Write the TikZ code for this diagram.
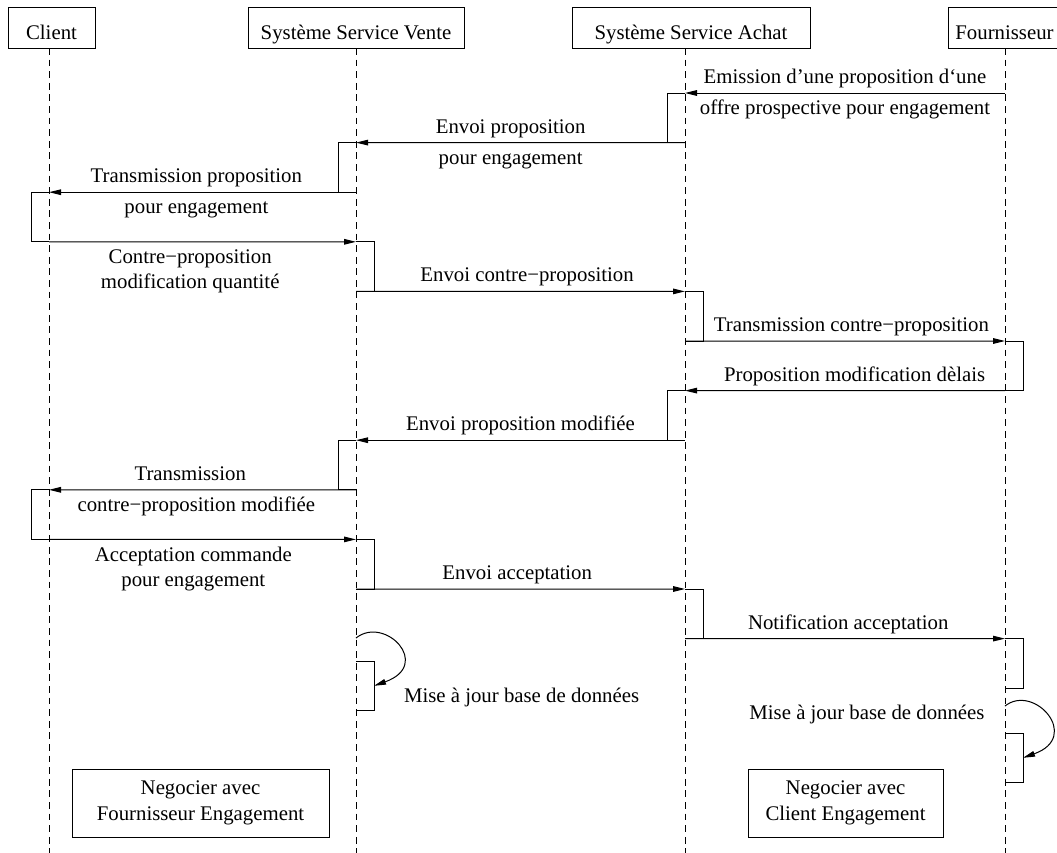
\documentclass[tikz,border=0pt]{standalone}
\usepackage{fontspec}
\setmainfont{Liberation Serif}
\usetikzlibrary{arrows.meta}
\tikzset{
  head/.style={draw,line width=0.5pt,minimum height=20.5pt,inner sep=0pt,
               text height=11.5pt,text depth=0pt},
  life/.style={line width=0.5pt,dash pattern=on 3.4pt off 2.4pt},
  act/.style={minimum width=9pt,minimum height=24.8pt,inner sep=0pt,outer sep=0pt},
  actl/.style={act,anchor=north east},
  actr/.style={act,anchor=north west},
  side/.style={line width=0.5pt},
  msg/.style={line width=0.5pt,-{Triangle[length=6pt,width=2.8pt]}},
  lab/.style={text height=0.7em,text depth=0.25em},
  labup/.style={lab,anchor=south,inner sep=2pt},
  labdn/.style={lab,anchor=north,inner sep=3.5pt},
  labdn2/.style={anchor=north,inner sep=3.5pt,align=center},
  note/.style={draw,line width=0.5pt,align=center,minimum height=34pt,inner sep=0pt},
}
\begin{document}
\begin{tikzpicture}[x=0.5pt,y=-0.5pt,font=\fontsize{10.4}{12.8}\selectfont]
  \useasboundingbox (0,0) rectangle (1057,853);
  % lifeline heads
  \node[head,minimum width=43.5pt] (hcli) at (51.5,27.5) {Client};
  \node[head,minimum width=108pt]  (hven) at (356,27.5)  {Système Service Vente};
  \node[head,minimum width=119pt]  (hach) at (691,27.5)  {Système Service Achat};
  \node[head,minimum width=56.5pt] (hfou) at (1004.5,27.5) {Fournisseur};
  \foreach \x in {49,356,685,1005}
    \draw[life] (\x,48) -- (\x,853);
  % activations
  \node[actl] (a1) at (685,93) {};
  \node[actl] (v1) at (356,142.6) {};
  \node[actl] (c1) at (49,192.2) {};
  \node[actr] (v2) at (356,241.8) {};
  \node[actr] (a2) at (685,291.4) {};
  \node[actr] (f1) at (1005,341) {};
  \node[actl] (a3) at (685,390.6) {};
  \node[actl] (v3) at (356,440.2) {};
  \node[actl] (c2) at (49,489.8) {};
  \node[actr] (v4) at (356,539.4) {};
  \node[actr] (a4) at (685,589) {};
  \node[actr] (f2) at (1005,638.6) {};
  \node[actr] (v5) at (356,661) {};
  \node[actr] (f3) at (1005,733) {};
  \foreach \n in {a1,v1,c1,a3,v3,c2}
    \draw[side] (\n.north east) -| (\n.south west) -- (\n.south east);
  \foreach \n in {v2,a2,f1,v4,a4,f2,v5,f3}
    \draw[side] (\n.north west) -| (\n.south east) -- (\n.south west);
  % messages
  \coordinate (e0) at (1005,93);
  \draw[msg] (e0) -- node[labup] (m1a) {Emission d’une proposition d‘une}
    node[labdn] (m1b) {offre prospective pour engagement} (a1.north east);
  \draw[msg] (a1.south east) -- node[labup,pos=.53] (m2a) {Envoi proposition}
    node[labdn,pos=.53] (m2b) {pour engagement} (v1.north east);
  \draw[msg] (v1.south east) -- node[labup,pos=.52] (m3a) {Transmission proposition}
    node[labdn,pos=.52] (m3b) {pour engagement} (c1.north east);
  \draw[msg] (c1.south east) -- node[labdn2,pos=.46] (m4) {Contre−proposition\\modification quantité} (v2.north west);
  \draw[msg] (v2.south west) -- node[labup,pos=.52] (m5) {Envoi contre−proposition} (a2.north west);
  \draw[msg] (a2.south west) -- node[labup,pos=.52] (m6) {Transmission contre−proposition} (f1.north west);
  \draw[msg] (f1.south west) -- node[labup,pos=.47] (m7) {Proposition modification dèlais} (a3.north east);
  \draw[msg] (a3.south east) -- node[labup] (m8) {Envoi proposition modifiée} (v3.north east);
  \draw[msg] (v3.south east) -- node[labup,pos=.54] (m9a) {Transmission}
    node[labdn,pos=.52] (m9b) {contre−proposition modifiée} (c2.north east);
  \draw[msg] (c2.south east) -- node[labdn2,pos=.47] (m10) {Acceptation commande\\pour engagement} (v4.north west);
  \draw[msg] (v4.south west) -- node[labup,pos=.49] (m11) {Envoi acceptation} (a4.north west);
  \draw[msg] (a4.south west) -- node[labup,pos=.51] (m12) {Notification acceptation} (f2.north west);
  % self calls
  \coordinate (lv) at (356,638);
  \draw[msg] (lv) .. controls +(29,-23) and +(59,-21) .. (v5.east);
  \node[anchor=base west] (upv) at (397,702) {Mise à jour base de données};
  \coordinate (lf) at (1005,706);
  \draw[msg] (lf) .. controls +(29,-23) and +(59,-21) .. (f3.east);
  \node[anchor=base] (upf) at (867,719) {Mise à jour base de données};
  % notes
  \node[note,minimum width=128.5pt] (negf) at (200.5,803) {Negocier avec\\Fournisseur Engagement};
  \node[note,minimum width=97.5pt]  (negc) at (845.5,803) {Negocier avec\\Client Engagement};
\end{tikzpicture}
\end{document}
